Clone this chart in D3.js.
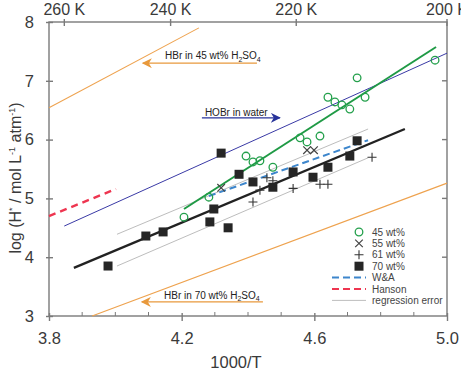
<!DOCTYPE html>
<html>
<head>
<meta charset="utf-8">
<script src="https://cdn.jsdelivr.net/npm/d3@7"></script>
<style>
  body { margin: 0; background: #fff; }
  text { font-family: "Liberation Sans", Arial, sans-serif; white-space: pre; }
</style>
</head>
<body>
<div id="chart"></div>
<script>
'use strict';

// 45 wt% (open circles): [1000/T, log H*]
var wt45 = [[4.207, 4.68], [4.282, 5.02], [4.394, 5.72], [4.415, 5.62], [4.436, 5.64],
    [4.475, 5.53], [4.557, 6.03], [4.578, 5.96], [4.617, 6.06], [4.641, 6.72],
    [4.662, 6.64], [4.683, 6.59], [4.707, 6.52], [4.729, 7.05], [4.753, 6.72], [4.964, 7.35]];
// 55 wt% (crosses)
var wt55 = [[4.319, 5.18], [4.578, 5.82], [4.599, 5.82]];
// 61 wt% (plus)
var wt61 = [[4.415, 4.94], [4.436, 5.14], [4.457, 5.35], [4.475, 5.30],
    [4.536, 5.17], [4.617, 5.24], [4.641, 5.24], [4.774, 5.70]];
// 70 wt% (filled squares)
var wt70 = [[3.978, 3.85], [4.092, 4.36], [4.144, 4.43], [4.285, 4.60], [4.297, 4.82],
    [4.319, 5.77], [4.340, 4.50], [4.373, 5.41], [4.415, 5.28], [4.475, 5.19],
    [4.536, 5.45], [4.596, 5.36], [4.641, 5.53], [4.707, 5.72], [4.729, 5.98]];

// lines (end points)
var fit45 = [[4.207, 4.82], [4.967, 7.575]];
var fit70 = [[3.875, 3.82], [4.873, 6.18]];
var errUpper = [[4.005, 4.39], [4.762, 6.18]];
var errLower = [[4.005, 3.85], [4.762, 5.69]];
var wandA = [[4.282, 5.04], [4.762, 5.99]];
var hanson = [[3.8, 4.70], [4.002, 5.16]];
var hobrWater = [[3.846, 4.53], [5.0, 7.47]];
var hbr45 = [[3.8, 6.54], [4.252, 7.90]];
var hbr70 = [[3.93, 3.0], [5.0, 5.26]];

var xTicks = [3.8, 4.2, 4.6, 5.0];
var yTicks = [3, 4, 5, 6, 7, 8];
var tempTicks = [260, 240, 220, 200];

var legendItems = ["45 wt%", "55 wt%", "61 wt%", "70 wt%", "W&A", "Hanson", "regression error"];

var W = 461, H = 373;
var x = d3.scaleLinear().domain([3.8, 5.0]).range([49, 447]);
var y = d3.scaleLinear().domain([3, 8]).range([316, 22]);

var svg = d3.select("#chart").append("svg")
    .attr("width", W)
    .attr("height", H);

var defs = svg.append("defs");
function marker(id, color) {
    defs.append("marker")
        .attr("id", id)
        .attr("viewBox", "0 0 10 10")
        .attr("refX", 9).attr("refY", 5)
        .attr("markerWidth", 10).attr("markerHeight", 10)
        .attr("markerUnits", "userSpaceOnUse")
        .attr("orient", "auto")
        .append("path")
        .attr("d", "M0,0 L10,5 L0,10 L3,5 Z")
        .attr("fill", color);
}
marker("arrOrange", "#e8993c");
marker("arrBlue", "#27329a");

var line = d3.line()
    .x(function (d) { return x(d[0]); })
    .y(function (d) { return y(d[1]); });

var axisColor = "#7a7a7a";
var labelColor = "#3a3a3a";

// frame
var frame = svg.append("g").attr("stroke", axisColor).attr("stroke-width", 1.4);
frame.append("rect")
    .attr("x", x(3.8)).attr("y", y(8))
    .attr("width", x(5.0) - x(3.8)).attr("height", y(3) - y(8))
    .attr("fill", "none");

// bottom axis
var xAxis = d3.axisBottom(x).tickValues(xTicks).tickSize(5)
    .tickFormat(d3.format(".1f"));
var gx = svg.append("g")
    .attr("transform", "translate(0," + y(3) + ")")
    .call(xAxis);
gx.select(".domain").remove();
gx.selectAll("line").attr("stroke", axisColor).attr("stroke-width", 1.4).attr("y1", -3);
gx.selectAll("text").attr("font-size", 16.5).attr("fill", labelColor).attr("dy", "1em").attr("y", 11);

// minor ticks inside
var minor = d3.range(3.9, 5.0, 0.1).filter(function (v) {
    return xTicks.every(function (t) { return Math.abs(t - v) > 0.01; });
});
svg.append("g").selectAll("line")
    .data(minor).join("line")
    .attr("x1", function (d) { return x(d); }).attr("x2", function (d) { return x(d); })
    .attr("y1", y(3)).attr("y2", y(3) - 4)
    .attr("stroke", axisColor).attr("stroke-width", 1);

// left axis
var yAxis = d3.axisLeft(y).tickValues(yTicks).tickSize(3).tickFormat(d3.format("d"));
var gy = svg.append("g")
    .attr("transform", "translate(" + x(3.8) + ",0)")
    .call(yAxis);
gy.select(".domain").remove();
gy.selectAll("line").attr("stroke", axisColor).attr("stroke-width", 1.4).attr("x2", 4).attr("x1", -3);
gy.selectAll("text").attr("font-size", 16.5).attr("fill", labelColor).attr("x", -15);

// right axis ticks
svg.append("g").selectAll("line")
    .data(yTicks.slice(1, -1)).join("line")
    .attr("x1", x(5.0) - 5).attr("x2", x(5.0))
    .attr("y1", function (d) { return y(d); }).attr("y2", function (d) { return y(d); })
    .attr("stroke", axisColor).attr("stroke-width", 1.4);

// top axis (temperature)
var gt = svg.append("g");
gt.selectAll("line")
    .data(tempTicks).join("line")
    .attr("x1", function (d) { return x(1000 / d); }).attr("x2", function (d) { return x(1000 / d); })
    .attr("y1", y(8) - 3).attr("y2", y(8) + 4)
    .attr("stroke", axisColor).attr("stroke-width", 1.4);
gt.selectAll("text")
    .data(tempTicks).join("text")
    .attr("x", function (d) { return x(1000 / d); })
    .attr("y", 15)
    .attr("text-anchor", "middle")
    .attr("font-size", 16).attr("fill", labelColor)
    .text(function (d) { return d + " K"; });

// axis titles
svg.append("text")
    .attr("x", 236).attr("y", 368)
    .attr("text-anchor", "middle")
    .attr("font-size", 16.5).attr("fill", labelColor)
    .text("1000/T");

var yt = svg.append("text")
    .attr("transform", "translate(21,178) rotate(-90)")
    .attr("text-anchor", "middle")
    .attr("font-size", 16).attr("fill", labelColor);
yt.append("tspan").text("log (H");
yt.append("tspan").attr("font-size", 9).attr("dy", -6).text("*");
yt.append("tspan").attr("dy", 6).text(" / mol L");
yt.append("tspan").attr("font-size", 9).attr("dy", -6).text("-1");
yt.append("tspan").attr("dy", 6).text(" atm");
yt.append("tspan").attr("font-size", 9).attr("dy", -6).text("-1");
yt.append("tspan").attr("dy", 6).text(")");

// reference lines
var plot = svg.append("g");
plot.append("path").datum(hbr45).attr("d", line)
    .attr("fill", "none").attr("stroke", "#eea24e").attr("stroke-width", 1.1);
plot.append("path").datum(hbr70).attr("d", line)
    .attr("fill", "none").attr("stroke", "#eea24e").attr("stroke-width", 1.1);
plot.append("path").datum(hobrWater).attr("d", line)
    .attr("fill", "none").attr("stroke", "#3a3aa6").attr("stroke-width", 1);
plot.append("path").datum(hanson).attr("d", line)
    .attr("fill", "none").attr("stroke", "#ee3550").attr("stroke-width", 2.4)
    .attr("stroke-dasharray", "7,5");
plot.append("path").datum(errUpper).attr("d", line)
    .attr("fill", "none").attr("stroke", "#bdbdbd").attr("stroke-width", 1);
plot.append("path").datum(errLower).attr("d", line)
    .attr("fill", "none").attr("stroke", "#bdbdbd").attr("stroke-width", 1);

// annotations
function annot(tx, ty, parts, ax1, ax2, ay, color, mk) {
    var t = plot.append("text")
        .attr("x", x(tx)).attr("y", y(ty))
        .attr("font-size", 10).attr("fill", "#222");
    parts.forEach(function (p) {
        var s = t.append("tspan").text(p[0]);
        if (p[1]) s.attr("font-size", 7).attr("dy", 2.5);
        else if (p[2]) s.attr("dy", -2.5);
    });
    plot.append("line")
        .attr("x1", x(ax1)).attr("x2", x(ax2))
        .attr("y1", y(ay)).attr("y2", y(ay))
        .attr("stroke", color).attr("stroke-width", 1.2)
        .attr("marker-end", "url(#" + mk + ")");
}
annot(4.150, 7.37, [["HBr in 45 wt% H"], ["2", 1], ["SO", 0, 1], ["4", 1]], 4.427, 4.083, 7.30, "#e8993c", "arrOrange");
annot(4.270, 6.40, [["HOBr in water"]], 4.261, 4.496, 6.37, "#27329a", "arrBlue");
annot(4.147, 3.29, [["HBr in 70 wt% H"], ["2", 1], ["SO", 0, 1], ["4", 1]], 4.445, 4.080, 3.24, "#e8993c", "arrOrange");

// fits
plot.append("path").datum(fit45).attr("d", line)
    .attr("fill", "none").attr("stroke", "#1f9a45").attr("stroke-width", 2);
plot.append("path").datum(wandA).attr("d", line)
    .attr("fill", "none").attr("stroke", "#3d86cc").attr("stroke-width", 2)
    .attr("stroke-dasharray", "7,4");
plot.append("path").datum(fit70).attr("d", line)
    .attr("fill", "none").attr("stroke", "#222").attr("stroke-width", 2.4);

// symbols
function drawCircle(g, cx, cy) {
    g.append("circle").attr("cx", cx).attr("cy", cy).attr("r", 3.8)
        .attr("fill", "none").attr("stroke", "#24a04c").attr("stroke-width", 1.3);
}
function drawCross(g, cx, cy) {
    var s = 3.8;
    g.append("path")
        .attr("d", "M" + (cx - s) + "," + (cy - s) + "L" + (cx + s) + "," + (cy + s) +
            "M" + (cx - s) + "," + (cy + s) + "L" + (cx + s) + "," + (cy - s))
        .attr("stroke", "#444").attr("stroke-width", 1.2);
}
function drawPlus(g, cx, cy) {
    var s = 4.5;
    g.append("path")
        .attr("d", "M" + (cx - s) + "," + cy + "L" + (cx + s) + "," + cy +
            "M" + cx + "," + (cy - s) + "L" + cx + "," + (cy + s))
        .attr("stroke", "#333").attr("stroke-width", 1.1);
}
function drawSquare(g, cx, cy) {
    g.append("rect").attr("x", cx - 4.5).attr("y", cy - 4.5)
        .attr("width", 9).attr("height", 9).attr("fill", "#262626");
}

var pts = svg.append("g");
wt45.forEach(function (d) { drawCircle(pts, x(d[0]), y(d[1])); });
wt55.forEach(function (d) { drawCross(pts, x(d[0]), y(d[1])); });
wt61.forEach(function (d) { drawPlus(pts, x(d[0]), y(d[1])); });
wt70.forEach(function (d) { drawSquare(pts, x(d[0]), y(d[1])); });

// legend
var lg = svg.append("g").attr("transform", "translate(332,232)");
var rowH = 11.4;
legendItems.forEach(function (name, i) {
    var cy = i * rowH;
    if (i === 0) drawCircle(lg, 27, cy);
    if (i === 1) drawCross(lg, 27, cy);
    if (i === 2) drawPlus(lg, 27, cy);
    if (i === 3) drawSquare(lg, 27, cy);
    if (i === 4) lg.append("line").attr("x1", 0).attr("x2", 34).attr("y1", cy).attr("y2", cy)
        .attr("stroke", "#3d86cc").attr("stroke-width", 2).attr("stroke-dasharray", "7,4");
    if (i === 5) lg.append("line").attr("x1", 0).attr("x2", 34).attr("y1", cy).attr("y2", cy)
        .attr("stroke", "#ee3550").attr("stroke-width", 2).attr("stroke-dasharray", "7,4");
    if (i === 6) lg.append("line").attr("x1", 0).attr("x2", 34).attr("y1", cy).attr("y2", cy)
        .attr("stroke", "#bdbdbd").attr("stroke-width", 1);
    lg.append("text")
        .attr("x", 40).attr("y", cy).attr("dy", "0.35em")
        .attr("font-size", 10).attr("fill", "#444")
        .text(name);
});
</script>
</body>
</html>
